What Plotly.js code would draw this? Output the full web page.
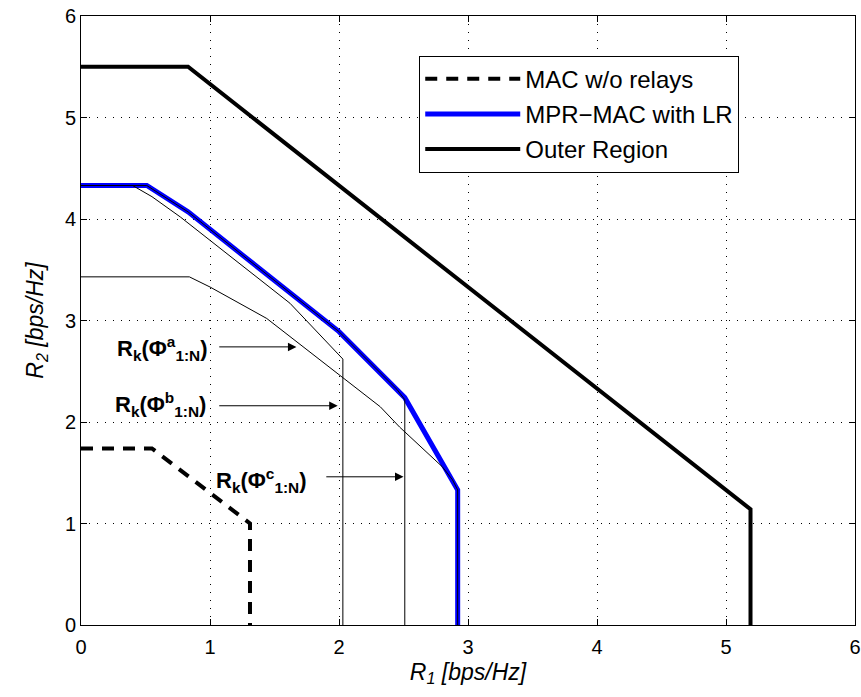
<!DOCTYPE html>
<html><head><meta charset="utf-8">
<script src="https://cdn.plot.ly/plotly-3.0.1.min.js"></script>
<style>body{margin:0;background:#fff}#c{width:861px;height:697px}</style>
</head><body><div id="c"></div>
<script>
// MAC without relays (dashed)
const macX = [0, 0.55, 1.31, 1.31];
const macY = [1.74, 1.74, 1.0, 0];
// MPR-MAC with LR (blue envelope)
const mprX = [0, 0.51, 0.83, 2.0, 2.51, 2.92, 2.92];
const mprY = [4.33, 4.33, 4.07, 2.89, 2.24, 1.33, 0];
// Outer region
const outX = [0, 0.83, 5.19, 5.19];
const outY = [5.5, 5.5, 1.14, 0];
// thin curves
const rAX = [0, 0.84, 1.0, 1.44, 2.32, 2.47, 2.8, 2.88, 2.92, 2.92];
const rAY = [3.43, 3.43, 3.33, 3.02, 2.15, 1.95, 1.56, 1.43, 1.33, 0];
const rBX = [0, 0.4, 0.55, 0.77, 1.62, 1.95, 2.03, 2.03];
const rBY = [4.33, 4.33, 4.22, 4.02, 3.17, 2.72, 2.62, 0];
const rCX = [0, 0.51, 0.83, 2.0, 2.45, 2.51, 2.51];
const rCY = [4.33, 4.33, 4.07, 2.89, 2.32, 2.22, 0];
// labels
const labTexts = ['a', 'b', 'c'];
const labX = [0.63, 0.62, 1.4];
const labY = [2.72, 2.17, 1.42];
const arrTailX = [1.06, 1.06, 1.89];
const arrTipX = [1.67, 1.99, 2.5];
const arrY = [2.74, 2.16, 1.46];

const F = 'Liberation Sans, Arial, Helvetica, sans-serif';
const thin = {color: '#000', width: 1};
const traces = [
  {x: mprX, y: mprY, mode: 'lines', name: 'MPR\u2212MAC with LR', legendgroup: 'g2', legendrank: 2, line: {color: '#0000ff', width: 5}},
  {x: rAX, y: rAY, mode: 'lines', showlegend: false, line: thin},
  {x: rBX, y: rBY, mode: 'lines', showlegend: false, line: thin},
  {x: rCX, y: rCY, mode: 'lines', showlegend: false, line: thin},
  {x: macX, y: macY, mode: 'lines', name: 'MAC w/o relays', legendgroup: 'g1', legendrank: 1, line: {color: '#000', width: 4, dash: '12px,9px'}},
  {x: outX, y: outY, mode: 'lines', name: 'Outer Region', legendgroup: 'g3', legendrank: 3, line: {color: '#000', width: 4}}
];

const ann = [];
for (let i = 0; i < 3; i++) {
  ann.push({x: arrTipX[i], y: arrY[i], ax: arrTailX[i], ay: arrY[i], xref: 'x', yref: 'y', axref: 'x', ayref: 'y',
    text: '', showarrow: true, arrowhead: 2, arrowsize: 1.7, arrowwidth: 1, arrowcolor: '#000'});
  ann.push({x: labX[i], y: labY[i], xref: 'x', yref: 'y', showarrow: false,
    text: '<b>R<sub>k</sub>(\u03A6<sup>' + labTexts[i] + '</sup><sub>1:N</sub>)</b>',
    font: {family: F, size: 22, color: '#000'}});
}

const ax = {
  range: [0, 6], dtick: 1, showgrid: true, gridcolor: '#000', griddash: '1px,7px', gridwidth: 1,
  zeroline: false, showline: true, linecolor: '#000', linewidth: 1, mirror: 'ticks', ticks: 'inside', ticklen: 6,
  tickcolor: '#000', tickfont: {family: F, size: 20, color: '#000'}
};
const layout = {
  width: 861, height: 697,
  margin: {l: 81, r: 6, t: 16, b: 72},
  paper_bgcolor: '#fff', plot_bgcolor: '#fff',
  xaxis: Object.assign({}, ax, {ticklabelstandoff: 4, title: {text: '<i>R<sub>1</sub> [bps/Hz]</i>', standoff: 6, font: {family: F, size: 23, color: '#000'}}}),
  yaxis: Object.assign({}, ax, {title: {text: '<i>R<sub>2</sub> [bps/Hz]</i>', standoff: 14, font: {family: F, size: 23, color: '#000'}}}),
  legend: {x: 0.437, y: 0.935, xanchor: 'left', yanchor: 'top', bgcolor: '#fff', bordercolor: '#000', borderwidth: 1,
    font: {family: F, size: 24, color: '#000'}, itemwidth: 95, tracegroupgap: 1},
  annotations: ann,
  showlegend: true
};
Plotly.newPlot('c', traces, layout, {displayModeBar: false, staticPlot: true});
</script></body></html>
